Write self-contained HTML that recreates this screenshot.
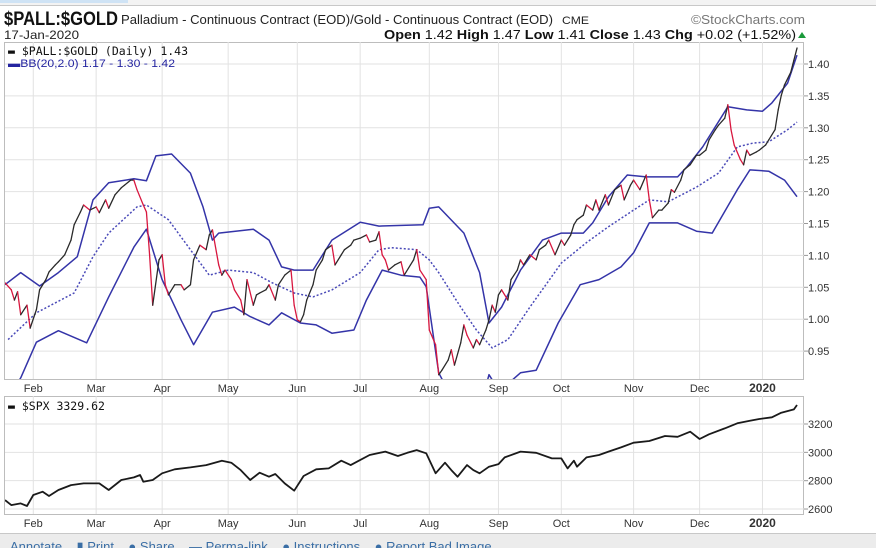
<!DOCTYPE html>
<html><head><meta charset="utf-8">
<style>
body{margin:0;background:#fff;width:876px;height:548px;overflow:hidden;font-family:"Liberation Sans",sans-serif}
svg{display:block}
.nar{font-family:"Liberation Sans",sans-serif}
</style></head>
<body>
<svg id="c" width="876" height="548" viewBox="0 0 876 548">
<rect x="0" y="0" width="876" height="5" fill="#f3f3f3"/>
<rect x="0" y="0" width="128" height="3" fill="#cfe3f5"/>
<line x1="0" y1="5.5" x2="876" y2="5.5" stroke="#c8c8c8"/>
<text x="4" y="25" font-size="19" font-weight="bold" fill="#111" textLength="114" lengthAdjust="spacingAndGlyphs">$PALL:$GOLD</text>
<text x="121" y="24" font-size="13" fill="#222" textLength="432" lengthAdjust="spacingAndGlyphs">Palladium - Continuous Contract (EOD)/Gold - Continuous Contract (EOD)</text>
<text x="562" y="24" font-size="11" fill="#222" textLength="27" lengthAdjust="spacingAndGlyphs">CME</text>
<text x="691" y="24" font-size="13" fill="#777" textLength="114" lengthAdjust="spacingAndGlyphs">©StockCharts.com</text>
<text x="4" y="39" font-size="12" fill="#222" textLength="75" lengthAdjust="spacingAndGlyphs">17-Jan-2020</text>
<text x="384" y="39" font-size="12.5" fill="#111" textLength="412" lengthAdjust="spacingAndGlyphs"><tspan font-weight="bold">Open</tspan> 1.42 <tspan font-weight="bold">High</tspan> 1.47 <tspan font-weight="bold">Low</tspan> 1.41 <tspan font-weight="bold">Close</tspan> 1.43 <tspan font-weight="bold">Chg</tspan> +0.02 (+1.52%)</text>
<polygon points="798,38 806,38 802,32" fill="#1a9a3a"/>
<g id="main"></g>
<g id="spx"></g>
<rect x="0" y="533" width="876" height="15" fill="#ececec"/>
<line x1="0" y1="533.5" x2="876" y2="533.5" stroke="#c8c8c8"/>
<text x="10" y="551" font-size="13" fill="#3a6ea5">Annotate &#160;&#160; ▮ Print &#160;&#160; ● Share &#160;&#160; ▬ Perma-link &#160;&#160; ● Instructions &#160;&#160; ● Report Bad Image</text>
</svg>
<script>
const monthLabels=["Feb","Mar","Apr","May","Jun","Jul","Aug","Sep","Oct","Nov","Dec","2020"];
const monthDays=[9,29,50,71,93,113,135,157,177,200,221,241];
const mainTicks=[0.95,1.00,1.05,1.10,1.15,1.20,1.25,1.30,1.35,1.40];
const spxTicks=[2600,2800,3000,3200];
const priceDays=[0,2,3,4,5,7,8,10,11,13,14,16,17,19,21,22,24,25,27,29,30,32,33,35,37,38,40,41,42,44,45,46,47,49,50,51,52,54,56,57,59,60,62,64,65,66,68,69,70,72,73,75,76,77,79,80,81,83,84,86,87,89,91,92,93,94,95,96,98,99,101,102,104,105,107,108,110,111,113,115,116,118,119,120,121,122,124,126,127,129,130,131,132,134,135,137,138,139,141,142,143,145,146,147,149,150,151,153,154,155,156,157,158,160,161,163,164,165,167,169,170,172,173,175,177,178,180,181,182,184,185,187,188,189,191,192,194,196,197,199,200,202,204,205,206,208,209,211,212,213,215,216,218,220,221,223,224,226,227,229,230,231,232,234,235,236,237,239,240,242,243,245,246,247,248,250,251,252];
const priceVals=[1.057,1.046,1.030,1.043,1.007,1.022,0.986,1.015,1.046,1.062,1.074,1.085,1.090,1.101,1.124,1.148,1.168,1.179,1.171,1.176,1.167,1.187,1.174,1.195,1.206,1.210,1.218,1.218,1.203,1.179,1.168,1.101,1.022,1.093,1.101,1.054,1.038,1.054,1.054,1.046,1.054,1.093,1.116,1.109,1.132,1.140,1.085,1.069,1.077,1.062,1.046,1.030,1.007,1.062,1.022,1.038,1.041,1.046,1.054,1.030,1.054,1.069,1.077,1.022,0.999,0.996,1.007,1.030,1.054,1.077,1.093,1.109,1.116,1.085,1.101,1.109,1.116,1.124,1.127,1.132,1.121,1.124,1.137,1.101,1.093,1.077,1.085,1.090,1.069,1.085,1.093,1.109,1.077,1.062,0.983,0.960,0.913,0.920,0.936,0.952,0.928,0.963,0.991,0.975,0.955,0.968,0.960,0.983,0.999,1.022,1.011,1.038,1.046,1.030,1.062,1.077,1.093,1.085,1.101,1.093,1.109,1.116,1.124,1.101,1.124,1.116,1.132,1.148,1.156,1.163,1.179,1.171,1.187,1.171,1.195,1.179,1.203,1.210,1.187,1.210,1.218,1.203,1.226,1.187,1.159,1.171,1.171,1.182,1.203,1.199,1.218,1.234,1.242,1.257,1.257,1.265,1.281,1.297,1.304,1.315,1.336,1.297,1.273,1.250,1.242,1.265,1.257,1.262,1.265,1.273,1.281,1.297,1.328,1.351,1.367,1.387,1.406,1.425];
const upperDays=[0,5,11,17,23,28,33,41,45,48,53,59,63,66,68,79,84,88,92,98,104,113,119,133,135,138,146,151,154,158,164,171,177,184,187,192,198,204,214,217,222,230,236,241,244,249,252];
const upperVals=[1.054,1.073,1.052,1.073,1.098,1.187,1.214,1.220,1.217,1.256,1.259,1.229,1.176,1.124,1.135,1.141,1.124,1.082,1.077,1.077,1.124,1.152,1.146,1.148,1.174,1.176,1.135,1.073,0.994,1.019,1.077,1.124,1.135,1.135,1.151,1.192,1.226,1.223,1.223,1.239,1.270,1.333,1.328,1.326,1.339,1.370,1.414];
const lowerDays=[0,5,10,17,26,33,41,45,50,56,60,66,73,78,84,88,94,99,104,111,115,120,126,132,134,138,145,150,154,155,158,164,169,176,183,189,196,200,205,214,220,225,233,237,243,248,252];
const lowerVals=[0.870,0.908,0.964,0.982,0.963,1.035,1.113,1.141,1.062,0.999,0.960,1.011,1.019,1.004,0.991,1.010,0.994,0.991,0.978,0.983,1.030,1.077,1.069,1.066,1.051,0.916,0.850,0.840,0.913,0.905,0.890,0.916,0.920,0.994,1.054,1.062,1.082,1.104,1.151,1.151,1.138,1.135,1.203,1.234,1.232,1.218,1.192];
const midDays=[1,10,22,28,33,42,45,52,59,65,71,79,85,92,98,104,113,119,123,131,135,138,145,150,155,160,167,177,185,192,200,205,211,220,227,233,238,243,249,252];
const midVals=[0.968,1.010,1.041,1.098,1.135,1.176,1.179,1.156,1.109,1.069,1.077,1.073,1.057,1.041,1.035,1.046,1.073,1.109,1.112,1.109,1.093,1.073,1.019,0.983,0.955,0.968,1.019,1.088,1.120,1.145,1.171,1.187,1.184,1.207,1.229,1.270,1.276,1.278,1.297,1.309];
const spxDays=[0,2,5,7,9,12,14,17,21,25,30,33,37,41,43,44,47,50,54,59,64,69,72,75,78,81,84,86,89,92,95,99,103,107,110,112,116,121,125,128,131,134,137,140,142,144,147,149,151,154,157,159,164,169,174,177,179,181,182,185,189,192,196,200,205,210,214,218,221,224,229,233,237,240,244,247,251,252];
const spxVals=[2663,2628,2640,2621,2699,2722,2692,2734,2769,2781,2781,2734,2805,2823,2840,2793,2805,2852,2880,2894,2910,2941,2927,2875,2805,2856,2828,2847,2781,2729,2833,2880,2887,2941,2910,2934,2981,3005,2974,2997,3016,2993,2852,2927,2875,2828,2910,2875,2852,2899,2917,2964,3005,2997,2957,2957,2887,2941,2899,2964,2981,3005,3035,3068,3080,3115,3110,3146,3094,3127,3169,3205,3223,3235,3247,3280,3303,3334];

const NS="http://www.w3.org/2000/svg";
const X0=5,X1=804;
function xS(d){return 5+d*3.143;}
function yM(v){return 64+(1.40-v)*638;}
function yS(v){return 424+(3200-v)*0.1417;}
function mk(tag,attrs,parent){const e=document.createElementNS(NS,tag);for(const k in attrs)e.setAttribute(k,attrs[k]);parent.appendChild(e);return e;}
const svg=document.getElementById('c');
const defs=mk('defs',{},svg);
const cp=mk('clipPath',{id:'clipMain'},defs);mk('rect',{x:X0,y:43,width:X1-X0,height:336},cp);
const cp2=mk('clipPath',{id:'clipSpx'},defs);mk('rect',{x:X0,y:396,width:X1-X0,height:118},cp2);

function panel(g,top,bot,ticks,yf,fmt,labelY){
  mk('rect',{x:X0-0.5,y:top+0.5,width:X1-X0,height:bot-top,fill:'#fff',stroke:'#bdbdbd'},g);
  monthDays.forEach((d,i)=>{
    const l=mk('line',{x1:xS(d),x2:xS(d),y1:top,y2:bot,stroke:'#e2e2e2'},g);
    
    
    const t=mk('text',{x:xS(d),y:labelY,'text-anchor':'middle','font-size':monthLabels[i]==='2020'?12:11,'font-weight':monthLabels[i]==='2020'?'bold':'normal',fill:'#333'},g);
    t.textContent=monthLabels[i];
    
    
  });
  ticks.forEach(v=>{
    const y=yf(v);
    const l=mk('line',{x1:X0,x2:X1,y1:y,y2:y,stroke:'#e2e2e2'},g);
    
    
    mk('line',{x1:X1,x2:X1+4,y1:y,y2:y,stroke:'#999'},g);
    const t=mk('text',{x:X1+4,y:y+4,'font-size':11,fill:'#333'},g);
    t.textContent=fmt(v);
    
    
  });
}
function pathOf(days,vals,yf){return days.map((d,i)=>(i?'L':'M')+xS(d).toFixed(1)+','+yf(vals[i]).toFixed(1)).join('');}

const gm=document.getElementById('main');
panel(gm,42,379,mainTicks,yM,v=>v.toFixed(2),392);
const gmc=mk('g',{'clip-path':'url(#clipMain)'},gm);
const up=mk('path',{d:pathOf(upperDays,upperVals,yM),fill:'none',stroke:'#3434a8','stroke-width':1.5,'stroke-linejoin':'round'},gmc);


const lo=mk('path',{d:pathOf(lowerDays,lowerVals,yM),fill:'none',stroke:'#3434a8','stroke-width':1.5,'stroke-linejoin':'round'},gmc);


const mi=mk('path',{d:pathOf(midDays,midVals,yM),fill:'none',stroke:'#4a4ab8','stroke-width':1.5,'stroke-dasharray':'2,2'},gmc);


for(let i=1;i<priceDays.length;i++){
  const s=mk('line',{x1:xS(priceDays[i-1]),y1:yM(priceVals[i-1]),x2:xS(priceDays[i]),y2:yM(priceVals[i]),stroke:priceVals[i]<priceVals[i-1]?'#d8173f':'#2a2a2a','stroke-width':1.3,'stroke-linecap':'round'},gmc);
  
  
}
const lg1=mk('text',{x:8,y:55,fill:'#111',style:'font-family:"DejaVu Sans Mono","Liberation Mono",monospace;font-size:11.5px'},gm);
lg1.textContent='▬ $PALL:$GOLD (Daily) 1.43';


const lg2=mk('text',{x:8,y:67,'font-size':11,fill:'#2424a0',textLength:167,lengthAdjust:'spacingAndGlyphs'},gm);
lg2.textContent='▬BB(20,2.0) 1.17 - 1.30 - 1.42';



const gs=document.getElementById('spx');
panel(gs,396,514,spxTicks,yS,v=>String(v),527);
const gsc=mk('g',{'clip-path':'url(#clipSpx)'},gs);
const sp=mk('path',{d:pathOf(spxDays,spxVals,yS),fill:'none',stroke:'#1a1a1a','stroke-width':1.8,'stroke-linejoin':'round'},gsc);


const lg3=mk('text',{x:8,y:410,fill:'#111',style:'font-family:"DejaVu Sans Mono","Liberation Mono",monospace;font-size:11.5px'},gs);
lg3.textContent='▬ $SPX 3329.62';


</script>
</body></html>
